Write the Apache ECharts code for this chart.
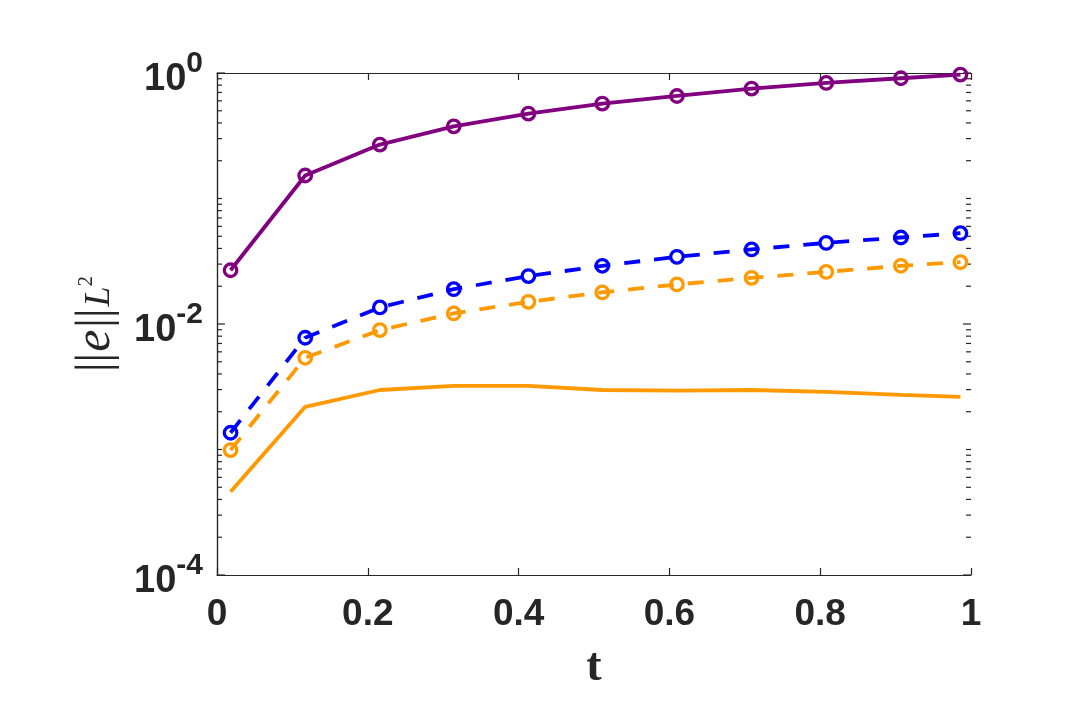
<!DOCTYPE html>
<html>
<head>
<meta charset="utf-8">
<script src="https://cdn.jsdelivr.net/npm/echarts@6/dist/echarts.min.js"></script>
<style>
html,body{margin:0;padding:0;background:#fff;}
#chart{width:1080px;height:720px;}
</style>
</head>
<body>
<div id="chart"></div>
<script>
// ---- data ----
const tValues = [0.018, 0.117, 0.216, 0.314, 0.413, 0.511, 0.61, 0.709, 0.808, 0.907, 0.986];
const purpleSolid = [0.0268, 0.1525, 0.269, 0.376, 0.475, 0.571, 0.656, 0.751, 0.833, 0.908, 0.971];
const blueDashed = [0.00136, 0.00777, 0.01355, 0.01896, 0.0241, 0.0291, 0.0343, 0.0393, 0.0443, 0.0489, 0.0529];
const orangeDashed = [0.00099, 0.00538, 0.00894, 0.01214, 0.01502, 0.01785, 0.02066, 0.02333, 0.0260, 0.0291, 0.0311];
const orangeSolid = [0.000461, 0.00219, 0.00298, 0.00321, 0.00321, 0.00298, 0.00294, 0.00298, 0.00288, 0.00272, 0.00263];
const xTicks = [0, 0.2, 0.4, 0.6, 0.8, 1];
const yLabelledDecades = [-4, -2, 0];
// all ticks of the log axis: m x 10^e
const yTickValues = [];
[-4, -3, -2, -1].forEach(function (e) {
  for (let m = 1; m <= 9; m++) yTickValues.push(m * Math.pow(10, e));
});
yTickValues.push(1);

const C_TEXT = '#262626';
const C_PURPLE = '#800080';
const C_BLUE = '#0000FF';
const C_ORANGE = '#FF9900';

function pairs(ys) { return tValues.map(function (t, i) { return [t, ys[i]]; }); }

function isLabelledDecade(v) {
  const e = Math.log10(v);
  return Math.abs(e - Math.round(e)) < 1e-6 && yLabelledDecades.indexOf(Math.round(e)) >= 0;
}

function lineSeries(name, ys, color, dashed, markers) {
  return {
    name: name,
    type: 'line',
    data: pairs(ys),
    xAxisIndex: 0, yAxisIndex: 0,
    showSymbol: markers,
    showAllSymbol: true,
    symbol: 'circle',
    symbolSize: 12.5,
    itemStyle: { color: 'rgba(255,255,255,0)', borderColor: color, borderWidth: 3.3 },
    lineStyle: { color: color, width: 3.8, type: dashed ? [16, 14] : 'solid' },
    emphasis: { disabled: true },
    animation: false,
    z: 3
  };
}

const chart = echarts.init(document.getElementById('chart'), null, { renderer: 'canvas' });

const GRID = { left: 217, right: 109, top: 73, bottom: 145 };

chart.setOption({
  backgroundColor: '#ffffff',
  animation: false,
  grid: { left: GRID.left, right: GRID.right, top: GRID.top, bottom: GRID.bottom, containLabel: false },
  xAxis: [
    {
      type: 'value', min: 0, max: 1, interval: 0.2, position: 'bottom',
      axisLine: { show: true, lineStyle: { color: C_TEXT, width: 1.2 } },
      axisTick: { show: true, inside: true, length: 7, lineStyle: { color: C_TEXT, width: 1.2 } },
      splitLine: { show: false },
      axisLabel: {
        show: true, margin: 21, color: C_TEXT,
        fontFamily: 'Liberation Sans, Arial, sans-serif', fontWeight: 'bold', fontSize: 37,
        formatter: function (v) { return String(Math.round(v * 10) / 10); }
      },
      name: 't', nameLocation: 'middle', nameGap: 70,
      nameTextStyle: { color: C_TEXT, fontFamily: 'Liberation Serif, Times New Roman, serif', fontSize: 46, fontWeight: 'bold' }
    },
    {
      type: 'value', min: 0, max: 1, interval: 0.2, position: 'top',
      axisLine: { show: true, lineStyle: { color: C_TEXT, width: 1.2 } },
      axisTick: { show: true, inside: true, length: 7, lineStyle: { color: C_TEXT, width: 1.2 } },
      splitLine: { show: false },
      axisLabel: { show: false }
    }
  ],
  yAxis: [
    {
      type: 'log', logBase: 10, min: 1e-4, max: 1, position: 'left',
      axisLine: { show: true, lineStyle: { color: C_TEXT, width: 1.2 } },
      axisTick: { show: false },
      splitLine: { show: false },
      axisLabel: {
        show: true, margin: 14, color: C_TEXT,
        formatter: function (v) {
          const e = Math.round(Math.log10(v));
          if (yLabelledDecades.indexOf(e) < 0) return '';
          return '{a|10}{b|' + e + '}';
        },
        rich: {
          a: { fontFamily: 'Liberation Sans, Arial, sans-serif', fontWeight: 'bold', fontSize: 38, color: C_TEXT, padding: [14, 0, 0, 0] },
          b: { fontFamily: 'Liberation Sans, Arial, sans-serif', fontWeight: 'bold', fontSize: 30, color: C_TEXT, padding: [0, 0, 18, 0] }
        }
      },
      name: '{n|||}{e|e}{n|||}{l|L}{s|2}',
      nameLocation: 'middle', nameGap: 96, nameRotate: 90,
      nameTextStyle: {
        color: C_TEXT,
        rich: {
          n: { fontFamily: 'Liberation Serif, serif', fontSize: 48, color: C_TEXT },
          e: { fontFamily: 'Liberation Serif, serif', fontStyle: 'italic', fontSize: 50, color: C_TEXT, padding: [0, 2, 0, 1] },
          l: { fontFamily: 'Liberation Serif, serif', fontStyle: 'italic', fontSize: 36, color: C_TEXT, padding: [8, 0, 0, 2] },
          s: { fontFamily: 'Liberation Serif, serif', fontSize: 21, color: C_TEXT, padding: [0, 0, 20, 0] }
        }
      }
    },
    {
      type: 'log', logBase: 10, min: 1e-4, max: 1, position: 'right',
      axisLine: { show: true, lineStyle: { color: C_TEXT, width: 1.2 } },
      axisTick: { show: false },
      splitLine: { show: false },
      axisLabel: { show: false }
    }
  ],
  series: [
    {
      type: 'custom',
      xAxisIndex: 0, yAxisIndex: 0,
      data: yTickValues.map(function (v) { return [0, v]; }),
      clip: false,
      silent: true,
      z: 1,
      renderItem: function (params, api) {
        const v = api.value(1);
        const len = isLabelledDecade(v) ? 8 : 5;
        const pl = api.coord([0, v]);
        const pr = api.coord([1, v]);
        const st = { stroke: C_TEXT, lineWidth: 1.2 };
        return {
          type: 'group',
          children: [
            { type: 'line', shape: { x1: pl[0], y1: pl[1], x2: pl[0] + len, y2: pl[1] }, style: st },
            { type: 'line', shape: { x1: pr[0], y1: pr[1], x2: pr[0] - len, y2: pr[1] }, style: st }
          ]
        };
      }
    },
    lineSeries('purple', purpleSolid, C_PURPLE, false, true),
    lineSeries('blue dashed', blueDashed, C_BLUE, true, true),
    lineSeries('orange dashed', orangeDashed, C_ORANGE, true, true),
    lineSeries('orange solid', orangeSolid, C_ORANGE, false, false)
  ]
});
</script>
</body>
</html>
